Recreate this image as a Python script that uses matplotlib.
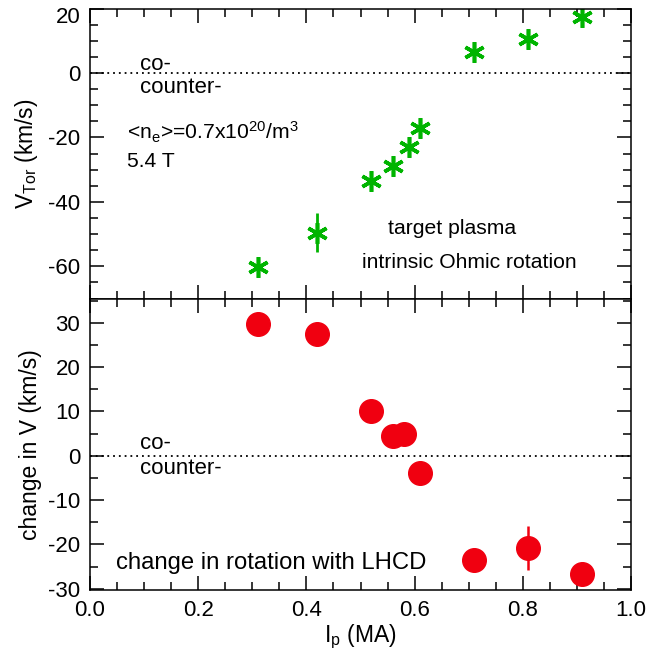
import matplotlib
matplotlib.use("Agg")
import matplotlib.pyplot as plt
import matplotlib.transforms as mtransforms
from matplotlib.ticker import MultipleLocator, FormatStrFormatter

plt.rcParams['font.family'] = ['Liberation Sans', 'DejaVu Sans']
plt.rcParams['mathtext.fontset'] = 'custom'
plt.rcParams['mathtext.rm'] = 'Liberation Sans'
plt.rcParams['mathtext.it'] = 'Liberation Sans'
plt.rcParams['axes.unicode_minus'] = False

# Top panel: intrinsic Ohmic rotation (target plasma)
ip_top = [0.31, 0.42, 0.52, 0.56, 0.59, 0.61, 0.71, 0.81, 0.91]
vtor_top = [-60.2, -49.6, -33.6, -28.8, -23.0, -17.1, 6.5, 10.4, 17.5]
vtor_err = [0, 6.0, 0, 0, 0, 0, 0, 0, 0]

# Bottom panel: change in rotation with LHCD
ip_bot = [0.31, 0.42, 0.52, 0.56, 0.58, 0.61, 0.71, 0.81, 0.91]
dv_bot = [29.8, 27.4, 10.1, 4.5, 5.0, -3.9, -23.6, -20.8, -26.6]
dv_err = [0, 0, 0, 0, 0, 0, 0, 5.0, 0]

fig = plt.figure(figsize=(6.58, 6.51), dpi=100)
W, H = 658, 651
left, right = 90, 631
ax1 = fig.add_axes([left / W, 1 - 298.5 / H, (right - left) / W, 290 / H])
ax2 = fig.add_axes([left / W, 1 - 590 / H, (right - left) / W, 291.5 / H])

green = '#00b400'
red = '#f00010'
FT = 16      # tick labels
FL = 16.5    # axis labels
FA = 15.2    # annotations
FC = 16      # co-/counter-

for ax in (ax1, ax2):
    ax.set_xlim(0, 1.0)
    ax.xaxis.set_major_locator(MultipleLocator(0.2))
    ax.xaxis.set_minor_locator(MultipleLocator(0.05))
    ax.tick_params(which='both', direction='in', top=True, right=True,
                   labelsize=FT, width=1.1)
    ax.tick_params(which='major', length=10, pad=7)
    ax.tick_params(which='minor', length=6)
    for s in ax.spines.values():
        s.set_linewidth(1.1)
    ax.axhline(0, color='k', lw=1.3, ls=(0, (1, 2.2)))

# top panel
ax1.errorbar(ip_top, vtor_top, yerr=vtor_err, fmt='none', ecolor=green,
             elinewidth=2, capsize=0)
ax1.plot(ip_top, vtor_top, ls='none', marker=(6, 2, 0), ms=15,
         mew=2.6, mec=green, color=green)
ax1.set_ylim(-70, 20)
ax1.yaxis.set_major_locator(MultipleLocator(20))
ax1.yaxis.set_minor_locator(MultipleLocator(5))
ax1.tick_params(labelbottom=False)
ax1.set_ylabel(r'V$_{\rm Tor}$ (km/s)', fontsize=FL, labelpad=6)

ax1.text(0.092, 0.9, 'co-', fontsize=FC, va='baseline')
ax1.text(0.092, -6.2, 'counter-', fontsize=FC, va='baseline')
ax1.text(0.068, -20.5, r'<n$_{\rm e}$>=0.7x10$^{\rm 20}$/m$^{\rm 3}$',
         fontsize=FA, va='baseline')
ax1.text(0.068, -29.1, '5.4 T', fontsize=FA, va='baseline')
ax1.text(0.551, -49.9, 'target plasma', fontsize=FA, va='baseline')
ax1.text(0.503, -60.5, 'intrinsic Ohmic rotation', fontsize=FA, va='baseline')

# bottom panel
ax2.errorbar(ip_bot, dv_bot, yerr=dv_err, fmt='none', ecolor=red,
             elinewidth=1.8, capsize=0)
ax2.plot(ip_bot, dv_bot, ls='none', marker='o', ms=17, mec=red, mfc=red)
ax2.set_ylim(-30.3, 35.5)
ax2.yaxis.set_major_locator(MultipleLocator(10))
ax2.yaxis.set_minor_locator(MultipleLocator(5))
ax2.set_ylabel('change in V (km/s)', fontsize=FL, labelpad=4)
ax2.set_xlabel(r'I$_{\rm p}$ (MA)', fontsize=FL, labelpad=1)
ax2.xaxis.set_major_formatter(FormatStrFormatter('%.1f'))

ax2.text(0.092, 1.6, 'co-', fontsize=FC, va='baseline')
ax2.text(0.092, -4.1, 'counter-', fontsize=FC, va='baseline')
ax2.text(0.048, -25.5, 'change in rotation with LHCD', fontsize=17.2,
         va='baseline')

fig.canvas.draw()
# top tick label "20" sits slightly lower in the original (kept inside figure)
for lab in ax1.get_yticklabels():
    if lab.get_text() == '20':
        lab.set_transform(lab.get_transform() +
                          mtransforms.ScaledTranslation(0, -6 / 100,
                                                        fig.dpi_scale_trans))

fig.savefig('out.png', dpi=100)
